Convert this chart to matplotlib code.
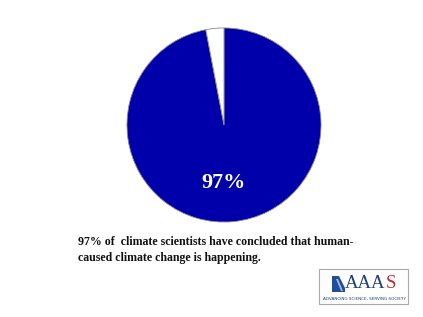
import matplotlib.pyplot as plt
from matplotlib.patches import Rectangle, Polygon

labels = ['agree', 'other']
shares = [97, 3]
colors = ['#0000aa', '#ffffff']

W, H = 423, 317
fig = plt.figure(figsize=(W / 100, H / 100), dpi=100)
fig.patch.set_facecolor('white')


def px(x, y):
    # pixel position (from top-left) -> figure fraction
    return x / W, 1 - y / H


# pie, placed in pixel terms
cx, cy, r = 224, 125, 98
ax = fig.add_axes([(cx - r) / W, (H - cy - r) / H, 2 * r / W, 2 * r / H])
ax.pie(shares, colors=colors, startangle=90, counterclock=False,
       wedgeprops=dict(edgecolor='#888888', linewidth=0.6))
ax.set_xlim(-1.01, 1.01)
ax.set_ylim(-1.01, 1.01)
ax.set_aspect('equal')
ax.axis('off')
ax.text(0, -0.6, f'{shares[0]}%', color='white', ha='center', va='center',
        fontsize=16, fontweight='bold', family='Liberation Serif')

cap = dict(fontsize=8.6, fontweight='bold', family='Liberation Serif', va='center', color='#111111')
fig.text(*px(78, 242), '97% of  climate scientists have concluded that human-', **cap)
fig.text(*px(78, 258), 'caused climate change is happening.', **cap)

# logo
x0, y0 = px(319, 304)
fig.add_artist(Rectangle((x0, y0), 89 / W, 35 / H, transform=fig.transFigure,
                         facecolor='white', edgecolor='#aaaaaa', linewidth=0.8))
fig.add_artist(Polygon([px(332, 292), px(332, 276), px(339, 276), px(345, 288), px(345, 292)],
                       closed=True, transform=fig.transFigure, facecolor='#1f4f9a', edgecolor='none'))
fig.add_artist(Polygon([px(336, 279), px(338, 279), px(343, 291), px(341, 291)],
                       closed=True, transform=fig.transFigure, facecolor='#9ab8dc', edgecolor='none'))
aaa = fig.text(*px(345, 284), 'AAA', fontsize=13.5, color='#1f3d7a',
               family='Liberation Serif', ha='left', va='center')
bb = aaa.get_window_extent(renderer=fig.canvas.get_renderer())
fig.text(bb.x1 / W + 0.5 / W, 1 - 284 / H, 'S', fontsize=13.5, color='#c0282d',
         family='Liberation Serif', ha='left', va='center')
fig.text(*px(364, 299), 'ADVANCING SCIENCE, SERVING SOCIETY', fontsize=3.0,
         color='#1f3d7a', family='DejaVu Sans', ha='center', va='center')

fig.savefig('out.png', dpi=100)
